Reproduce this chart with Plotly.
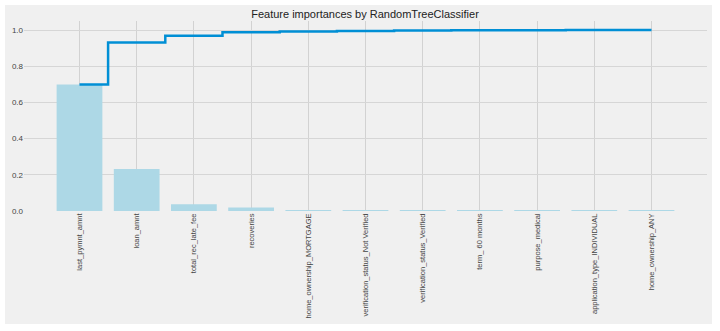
import numpy as np
import plotly.graph_objects as go

# Feature importances from the random forest, sorted descending
features = [
    "last_pymnt_amnt",
    "loan_amnt",
    "total_rec_late_fee",
    "recoveries",
    "home_ownership_MORTGAGE",
    "verification_status_Not Verified",
    "verification_status_Verified",
    "term_ 60 months",
    "purpose_medical",
    "application_type_INDIVIDUAL",
    "home_ownership_ANY",
]
importances = [0.699, 0.232, 0.037, 0.020, 0.004, 0.003, 0.002, 0.0015, 0.0008, 0.0004, 0.0003]
cumulative = np.cumsum(importances)

x_idx = list(range(len(features)))

W, H = 720, 331
ml, mr, mt, mb = 24, 13, 21, 120
pw, ph = W - ml - mr, H - mt - mb

fig = go.Figure()
fig.add_trace(go.Bar(
    x=x_idx, y=importances, width=0.8,
    marker=dict(color="#add8e6", line=dict(width=0)),
    hoverinfo="x+y", showlegend=False,
))
fig.add_trace(go.Scatter(
    x=x_idx, y=cumulative, mode="lines", line_shape="hvh",
    line=dict(color="#008fd5", width=2.5), showlegend=False,
))

# Figure panel background (white border around it)
def px_to_paper_x(p):
    return (p - ml) / pw

def px_to_paper_y(p):
    return (H - mb - p) / ph

fig.add_shape(
    type="rect", xref="paper", yref="paper", layer="below",
    x0=px_to_paper_x(5), x1=px_to_paper_x(712),
    y0=px_to_paper_y(324), y1=px_to_paper_y(5),
    fillcolor="#f0f0f0", line=dict(width=0),
)

fig.update_layout(
    width=W, height=H,
    margin=dict(l=ml, r=mr, t=mt, b=mb, pad=0),
    paper_bgcolor="white",
    plot_bgcolor="#f0f0f0",
    font=dict(family="Liberation Sans, Arial, sans-serif", color="#444"),
    title=dict(
        text="Feature importances by RandomTreeClassifier",
        x=px_to_paper_x(365), xref="paper", xanchor="center",
        y=1 - 14 / H, yref="container", yanchor="middle",
        font=dict(size=11, color="#222"),
    ),
    bargap=0.2,
)
fig.update_xaxes(
    range=[-0.97, 10.97],
    tickmode="array", tickvals=x_idx, ticktext=features,
    tickangle=-90, tickfont=dict(size=7.5, color="#444"),
    showgrid=True, gridcolor="#d2d2d2", gridwidth=1,
    zeroline=False, showline=False, ticks="", ticklen=0,
)
fig.update_yaxes(
    range=[0, 1.05],
    tickmode="array", tickvals=[0, 0.2, 0.4, 0.6, 0.8, 1.0],
    ticktext=["0.0", "0.2", "0.4", "0.6", "0.8", "1.0"],
    tickfont=dict(size=8, color="#444"),
    showgrid=True, gridcolor="#d6d6d6", gridwidth=1,
    zeroline=False, showline=False, ticks="", ticklen=0,
)

fig.write_html("out.html")
